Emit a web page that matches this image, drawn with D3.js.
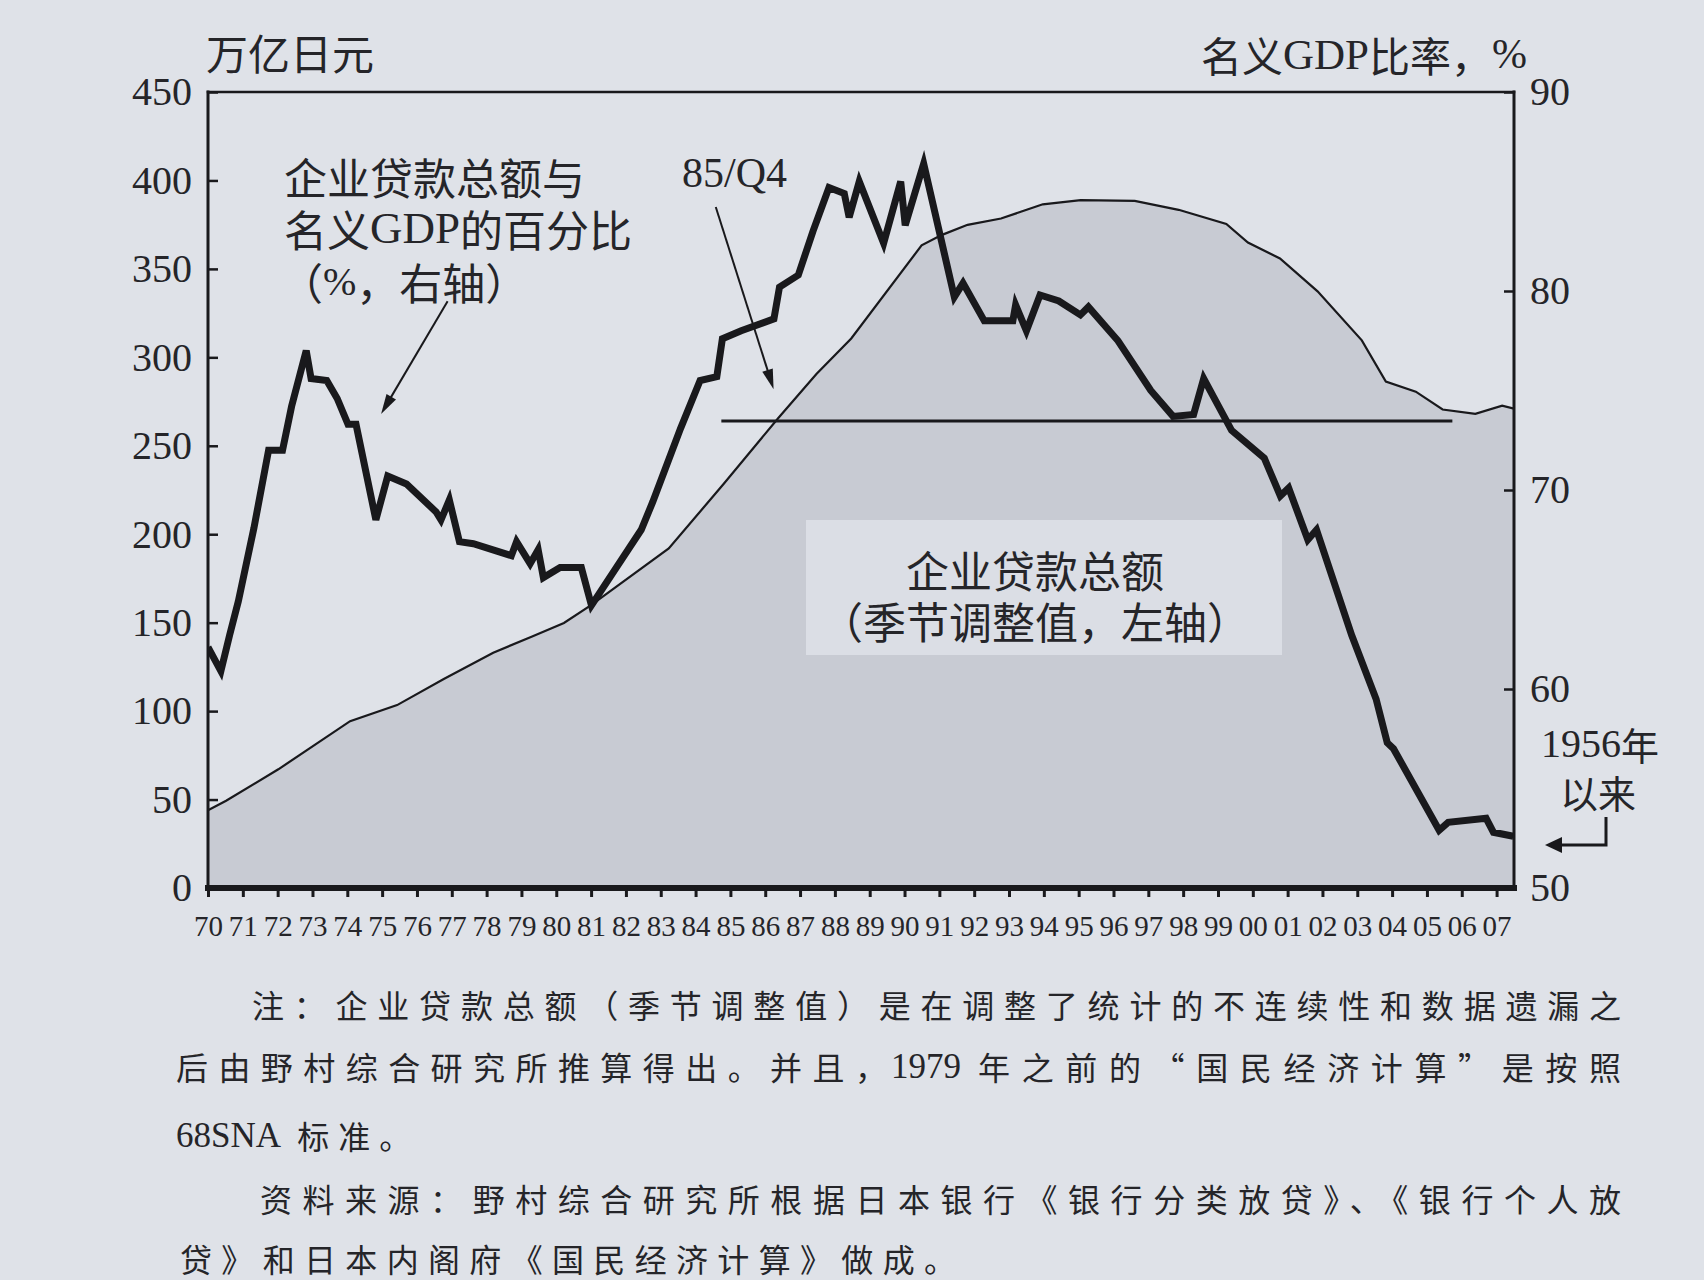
<!DOCTYPE html>
<html><head><meta charset="utf-8">
<script src="https://cdn.jsdelivr.net/npm/d3@7"></script>
<style>
html,body{margin:0;padding:0;background:#dfe2e8;}
svg{display:block;}
</style></head><body>
<svg id="chart" width="1704" height="1280"></svg>
<script>
// ---------------- DATA ----------------
// Corporate loans outstanding (seasonally adjusted), trillion yen, left axis
const loanYears = [1970.00,1970.52,1972.02,1974.08,1975.43,1976.77,1978.19,1979.29,1980.22,1981.01,1983.23,1984.81,1986.37,1987.47,1988.47,1990.49,1991.06,1991.81,1992.77,1993.97,1995.06,1996.61,1997.87,1999.24,1999.86,2000.78,2001.86,2003.13,2003.82,2004.68,2005.45,2006.39,2007.16,2007.50];
const loanValues = [44,49.3,67.1,94.3,103.4,118.2,133.0,142.1,149.8,160.1,192.0,228.5,265.6,290.6,310.7,363.3,369.1,374.9,378.5,386.5,388.9,388.4,383.4,375.4,364.9,355.9,337.3,309.6,286.3,280.6,270.5,268.1,272.7,271];

// Corporate loans as % of nominal GDP, right axis
const ratioYears = [1970.00,1970.37,1970.62,1970.87,1971.32,1971.74,1972.14,1972.40,1972.82,1972.96,1973.41,1973.71,1974.02,1974.25,1974.82,1975.16,1975.70,1976.55,1976.69,1976.93,1977.22,1977.62,1978.71,1978.86,1979.25,1979.48,1979.63,1980.11,1980.72,1981.01,1982.44,1982.77,1983.57,1984.13,1984.61,1984.77,1985.31,1986.25,1986.41,1986.95,1987.37,1987.83,1988.27,1988.41,1988.70,1989.40,1989.89,1990.02,1990.55,1991.43,1991.68,1992.29,1993.11,1993.19,1993.50,1993.89,1994.43,1995.05,1995.28,1996.13,1997.07,1997.71,1998.30,1998.59,1999.39,2000.33,2000.79,2001.03,2001.58,2001.83,2002.84,2003.54,2003.86,2004.04,2005.35,2005.61,2006.70,2006.91,2007.48];
const ratioValues = [62.1,60.9,62.7,64.4,68.1,72.0,72.0,74.2,77.0,75.6,75.5,74.6,73.3,73.3,68.5,70.7,70.3,68.9,68.5,69.5,67.4,67.3,66.7,67.4,66.3,67.0,65.6,66.1,66.1,64.2,68.0,69.4,73.1,75.5,75.7,77.6,78.0,78.6,80.2,80.8,83.0,85.2,84.9,83.7,85.5,82.4,85.5,83.3,86.4,79.7,80.4,78.5,78.5,79.3,78.0,79.8,79.5,78.8,79.2,77.5,75.0,73.7,73.8,75.6,73.0,71.6,69.7,70.1,67.5,68.0,62.7,59.5,57.3,57.0,52.9,53.3,53.5,52.8,52.6];

// Reference level (loans at 85/Q4) drawn across
const refLevel = 264;
const refFrom = 1984.74, refTo = 2005.73;

// Ticks
const leftTicks = [0,50,100,150,200,250,300,350,400,450];
const rightTicks = [50,60,70,80,90];
const yearTicks = d3.range(1970, 2008);
const yearLabels = ["70","71","72","73","74","75","76","77","78","79","80","81","82","83","84","85","86","87","88","89","90","91","92","93","94","95","96","97","98","99","00","01","02","03","04","05","06","07"];

// ---------------- LAYOUT ----------------
const M = {left:208, right:1514, top:92, bottom:888};
const INK = "#19191c", TXT = "#252529";
const CJK = "'Noto Sans CJK SC','Noto Sans CJK JP',sans-serif";
const SERIF = "'Liberation Serif','DejaVu Serif',serif";

const svg = d3.select("#chart");
svg.append("rect").attr("width",1704).attr("height",1280).attr("fill","#dfe2e8");

const x = d3.scaleLinear().domain([1970, 2007.5]).range([M.left, M.right]);
const yL = d3.scaleLinear().domain([0,450]).range([M.bottom, M.top]);
const yR = d3.scaleLinear().domain([50,90]).range([M.bottom, M.top]);

const loanData = loanYears.map((t,i)=>({t, v:loanValues[i]}));
const ratioData = ratioYears.map((t,i)=>({t, v:ratioValues[i]}));

svg.append("defs").append("clipPath").attr("id","plotclip")
  .append("rect").attr("x",M.left).attr("y",M.top-6).attr("width",M.right-M.left).attr("height",M.bottom-M.top+6);

const plot = svg.append("g").attr("clip-path","url(#plotclip)");

// loans area
plot.append("path").datum(loanData)
  .attr("d", d3.area().x(d=>x(d.t)).y0(yL(0)).y1(d=>yL(d.v)))
  .attr("fill","#c8cbd3");

// label box
plot.append("rect").attr("x",806).attr("y",520).attr("width",476).attr("height",135).attr("fill","#dbdee5");

// loans outline
plot.append("path").datum(loanData)
  .attr("d", d3.line().x(d=>x(d.t)).y(d=>yL(d.v)))
  .attr("fill","none").attr("stroke",INK).attr("stroke-width",2.2);

// reference line
plot.append("line")
  .attr("x1",x(refFrom)).attr("x2",x(refTo)).attr("y1",yL(refLevel)).attr("y2",yL(refLevel))
  .attr("stroke",INK).attr("stroke-width",3);

// ratio line
plot.append("path").datum(ratioData)
  .attr("d", d3.line().x(d=>x(d.t)).y(d=>yR(d.v)))
  .attr("fill","none").attr("stroke",INK).attr("stroke-width",7)
  .attr("stroke-linejoin","miter").attr("stroke-miterlimit",4);

// frame
const fr = svg.append("g").attr("stroke",INK).attr("stroke-linecap","square");
fr.append("line").attr("x1",M.left).attr("x2",M.right).attr("y1",M.top).attr("y2",M.top).attr("stroke-width",2.5);
fr.append("line").attr("x1",M.left).attr("x2",M.left).attr("y1",M.top).attr("y2",M.bottom).attr("stroke-width",3);
fr.append("line").attr("x1",M.right).attr("x2",M.right).attr("y1",M.top).attr("y2",M.bottom).attr("stroke-width",3);
fr.append("line").attr("x1",M.left).attr("x2",M.right).attr("y1",M.bottom).attr("y2",M.bottom).attr("stroke-width",6);

// axes
function styleAxis(g, size){
  g.select(".domain").remove();
  g.selectAll(".tick line").attr("stroke",INK).attr("stroke-width",2.5);
  g.selectAll(".tick text").attr("fill",TXT).attr("font-family",SERIF).attr("font-size",size);
}
const gL = svg.append("g").attr("transform",`translate(${M.left},0)`)
  .call(d3.axisLeft(yL).tickValues(leftTicks).tickSize(-10).tickSizeOuter(0).tickPadding(16));
styleAxis(gL, 40);

const gR = svg.append("g").attr("transform",`translate(${M.right},0)`)
  .call(d3.axisRight(yR).tickValues(rightTicks).tickSize(-10).tickSizeOuter(0).tickPadding(16));
styleAxis(gR, 40);

const gB = svg.append("g").attr("transform",`translate(0,${M.bottom})`)
  .call(d3.axisBottom(x).tickValues(yearTicks).tickFormat((d,i)=>yearLabels[i]).tickSize(9).tickSizeOuter(0));
styleAxis(gB, 29);
gB.selectAll(".tick line").attr("stroke-width",3);
gB.selectAll(".tick text").attr("y",38).attr("dy","0.35em");

// ---------------- TEXT ----------------
function mixed(parent, xPos, yPos, parts, opts={}){
  const t = parent.append("text").attr("x",xPos).attr("y",yPos)
    .attr("dominant-baseline","central").attr("fill",TXT)
    .attr("font-size",opts.size||42).attr("text-anchor",opts.anchor||"start");
  if(opts.len){ t.attr("textLength",opts.len).attr("lengthAdjust","spacing"); }
  parts.forEach(p=>{
    const s = t.append("tspan").text(p[0]).attr("font-family", p[1]==="l"?SERIF:CJK);
    if(p[2]) s.attr("font-size",p[2]);
    if(p[3]!==undefined) s.attr("letter-spacing",p[3]);
  });
  return t;
}

// axis titles
mixed(svg, 206, 51, [["万亿日元","c"]], {size:42});
mixed(svg, 1527, 54, [["名义","c"],["GDP","l",43],["比率，","c"],["%","l",42]], {size:41, anchor:"end"});

// ratio annotation
mixed(svg, 284, 176, [["企业贷款总额与","c"]], {size:43});
mixed(svg, 284, 228, [["名义","c"],["GDP","l",45],["的百分比","c"]], {size:43});
mixed(svg, 280, 281, [["（","c"],["%","l",40],["，右轴）","c"]], {size:43});

// 85/Q4
mixed(svg, 682, 173, [["85/Q4","l"]], {size:42});

// box text
mixed(svg, 1035, 569, [["企业贷款总额","c"]], {size:43, anchor:"middle"});
mixed(svg, 1035, 620, [["（季节调整值，左轴）","c"]], {size:43, anchor:"middle"});

// 1956 label
mixed(svg, 1541, 743, [["1956","l",40],["年","c"]], {size:38});
mixed(svg, 1560, 791, [["以来","c"]], {size:38});

// arrows
function arrow(x1,y1,x2,y2,len,half,w){
  const dx=x2-x1, dy=y2-y1, L=Math.hypot(dx,dy), ux=dx/L, uy=dy/L, px=-uy, py=ux;
  svg.append("line").attr("x1",x1).attr("y1",y1).attr("x2",x2-ux*len*0.7).attr("y2",y2-uy*len*0.7)
    .attr("stroke",INK).attr("stroke-width",w);
  const bx=x2-ux*len, by=y2-uy*len;
  svg.append("polygon").attr("points",`${x2},${y2} ${bx+px*half},${by+py*half} ${bx-px*half},${by-py*half}`)
    .attr("fill",INK);
}
arrow(x(1976.88), yL(331.7), x(1974.97), yL(268), 20, 5.5, 2);
arrow(x(1984.58), yL(385), x(1986.24), yL(282), 20, 5.5, 2);

// corner arrow for "since 1956"
svg.append("path").attr("d","M1606,817 L1606,845 L1558,845").attr("fill","none")
  .attr("stroke",INK).attr("stroke-width",3);
svg.append("polygon").attr("points","1545,845 1562,837 1562,853").attr("fill",INK);

// ---------------- NOTES ----------------
const notes = svg.append("g");
mixed(notes, 252, 1004, [["注：企业贷款总额（季节调整值）是在调整了统计的不连续性和数据遗漏之","c"]], {size:32, len:1369});
mixed(notes, 176, 1066, [["后由野村综合研究所推算得出。并且，","c"]], {size:32, len:711});
mixed(notes, 891, 1066, [["1979","l",35]], {size:35});
mixed(notes, 978, 1066, [["年之前的“国民经济计算”是按照","c"]], {size:32, len:643});
mixed(notes, 176, 1135, [["68SNA","l",35,0],[" 标准。","c",32,9]], {size:32});
mixed(notes, 260, 1198, [["资料来源：野村综合研究所根据日本银行《银行分类放贷》、《银行个人放","c"]], {size:32, len:1361});
mixed(notes, 180, 1258, [["贷》和日本内阁府《国民经济计算》做成。","c"]], {size:32, len:776});
</script>
</body></html>
